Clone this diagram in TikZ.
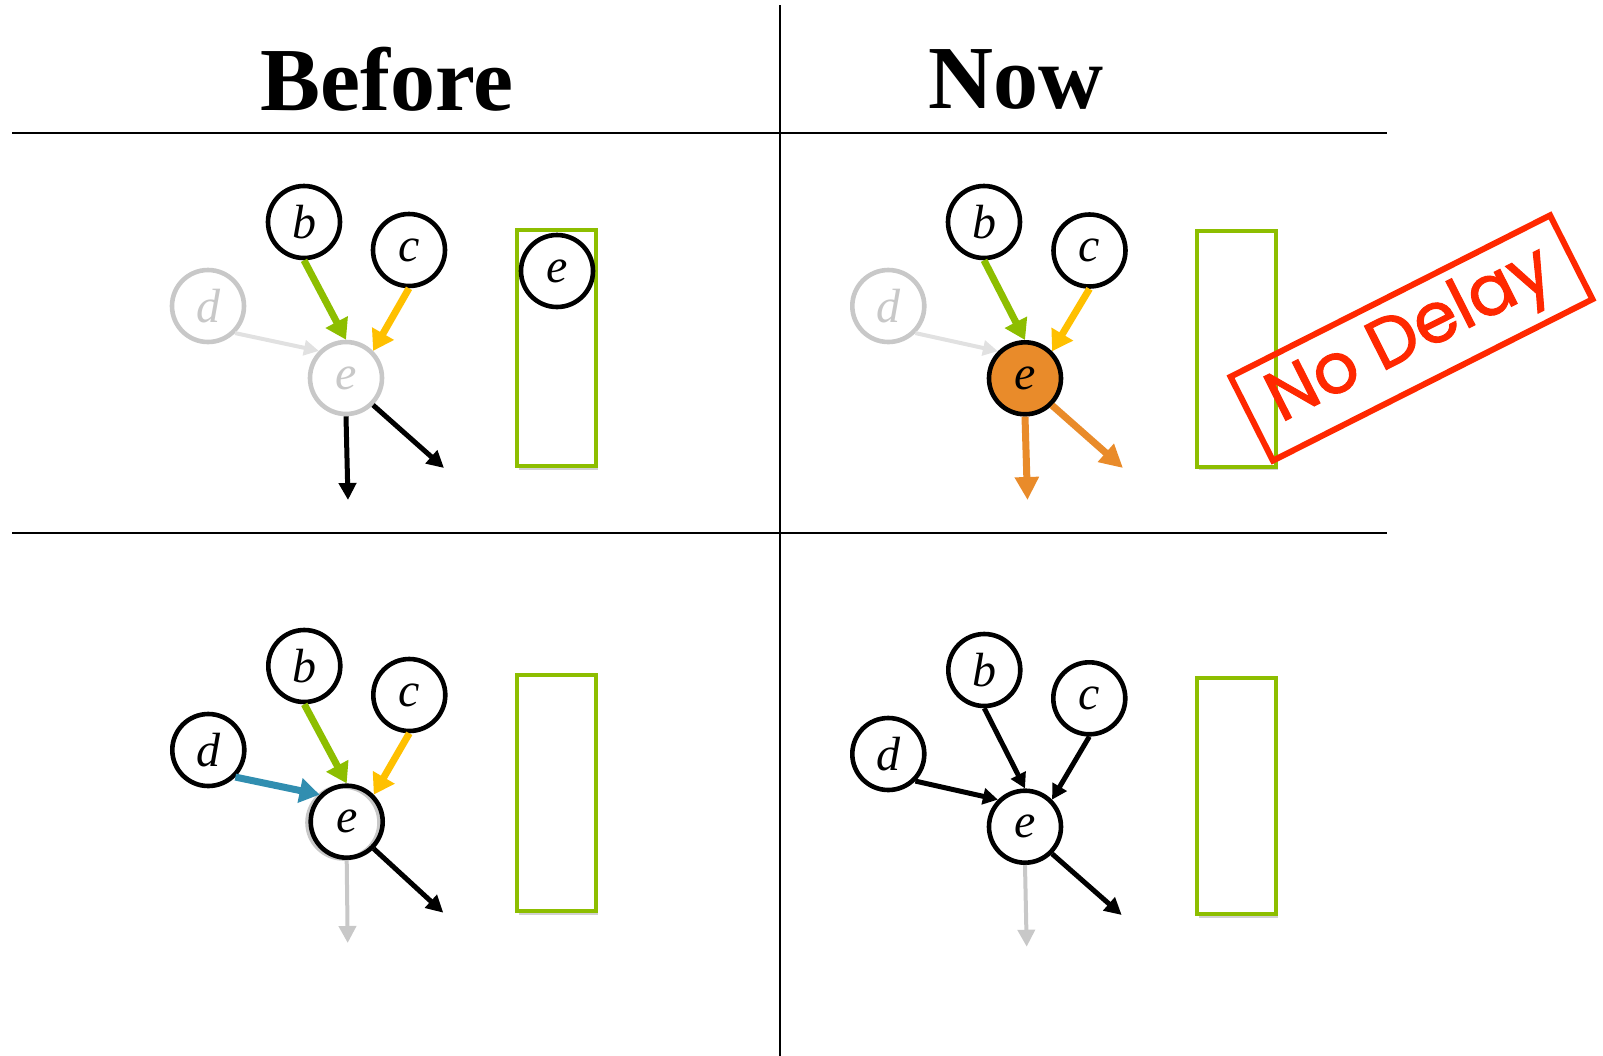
\documentclass[tikz,border=0pt]{standalone}
\usepackage{fontspec}
\setmainfont{Liberation Serif}
\newfontfamily\stampfont[FakeBold=1.5]{Poppins}
\usetikzlibrary{arrows.meta,shadows}
\definecolor{slotgreen}{RGB}{141,190,0}
\definecolor{ygold}{RGB}{255,192,0}
\definecolor{eorange}{RGB}{233,139,42}
\definecolor{teal}{RGB}{49,142,176}
\definecolor{ngray}{RGB}{200,200,200}
\definecolor{lgray}{RGB}{225,225,225}
\definecolor{stampred}{RGB}{255,40,0}
\begin{document}
\begin{tikzpicture}[x=0.5pt,y=-0.5pt,
  vnode/.style={circle,draw=black,line width=2.3pt,minimum size=36pt,inner sep=0pt,fill=white,font=\fontsize{24}{28}\selectfont\itshape},
  ghostnode/.style={vnode,draw=ngray,text=ngray},
  slot/.style={draw=slotgreen,line width=2pt,fill=white,minimum width=39.5pt,minimum height=118pt,
     drop shadow={shadow xshift=1.2pt,shadow yshift=-1.8pt,opacity=0.3,fill=black!60}},
  gridline/.style={line width=1pt,black},
  titletext/.style={font=\fontsize{45}{52}\selectfont\bfseries},
  inthick/.style={-{Triangle[length=10pt,width=12pt]},line width=3.5pt},
  inthin/.style={-{Triangle[length=7.5pt,width=8pt]},line width=2.5pt},
  ingray/.style={-{Triangle[length=7.5pt,width=7.5pt]},line width=2pt,lgray},
  outblack/.style={-{Triangle[length=8.5pt,width=8.5pt]},line width=2.5pt,black},
  outgray/.style={-{Triangle[length=8.5pt,width=8.5pt]},line width=2pt,ngray},
  outorange/.style={-{Triangle[length=11.5pt,width=11.5pt]},line width=3.5pt,eorange},
  stampbox/.style={draw=stampred,line width=3pt,rotate=26.8,minimum width=179pt,minimum height=47pt,
     inner sep=0pt,text=stampred,font=\stampfont\fontsize{35}{40}\selectfont}
]
\useasboundingbox (0,0) rectangle (1603,1056);

% grid
\coordinate (vt) at (780,5);
\coordinate (vb) at (780,1056);
\coordinate (h1l) at (12,133);
\coordinate (h1r) at (1387,133);
\coordinate (h2l) at (12,533);
\coordinate (h2r) at (1387,533);
\draw[gridline] (vt) -- (vb);
\draw[gridline] (h1l) -- (h1r);
\draw[gridline] (h2l) -- (h2r);

% titles
\node[titletext] (tBefore) at (387,79) {Before};
\node[titletext] (tNow) at (1016,79) {Now};

% ---------- top-left: Before ----------
\node[slot] (rA) at (556,348) {};
\node[vnode] (bA) at (304,222) {b};
\node[vnode] (cA) at (409,250) {c};
\node[ghostnode] (dA) at (208,306) {d};
\node[ghostnode] (eA) at (346,378) {e};
\node[vnode,fill=none] (eslotA) at (557,271) {e};
\coordinate (oA1) at (348,500);
\coordinate (oA2) at (444,468);
\draw[inthick,slotgreen] (bA.south) -- (eA.north);
\draw[inthick,ygold] (cA.south) -- (eA.north east);
\draw[ingray] (dA.south east) -- (eA.north west);
\draw[outblack] (eA.south) -- (oA1);
\draw[outblack] (eA.south east) -- (oA2);

% ---------- top-right: Now ----------
\node[slot] (rB) at (1236,348.5) {};
\node[vnode] (bB) at (984,222) {b};
\node[vnode] (cB) at (1089.5,250.5) {c};
\node[ghostnode] (dB) at (888.3,306) {d};
\node[vnode,fill=eorange] (eB) at (1025,378.3) {e};
\coordinate (oB1) at (1027.5,500);
\coordinate (oB2) at (1123,468);
\draw[inthick,slotgreen] (bB.south) -- (eB.north);
\draw[inthick,ygold] (cB.south) -- (eB.north east);
\draw[ingray] (dB.south east) -- (eB.north west);
\draw[outorange] (eB.south) -- (oB1);
\draw[outorange] (eB.south east) -- (oB2);

% stamp
\node[stampbox] (stamp) at (1411.5,338) {\raisebox{-4pt}{No Delay}};

% ---------- bottom-left: Before ----------
\node[slot] (rC) at (556,793) {};
\node[vnode] (bC) at (304.3,666) {b};
\node[vnode] (cC) at (409.3,695) {c};
\node[vnode] (dC) at (208.3,750) {d};
\node[vnode,draw=ngray,fill=none] (eCghost) at (343.5,822.5) {};
\node[vnode,fill=none] (eC) at (346.7,821.7) {e};
\coordinate (oC1) at (347.7,943);
\coordinate (oC2) at (443.3,912.7);
\draw[inthick,slotgreen] (bC.south) -- (eC.north);
\draw[inthick,ygold] (cC.south) -- (eC.north east);
\draw[inthick,teal] (dC.south east) -- (eC.north west);
\draw[outgray] (eC.south) -- (oC1);
\draw[outblack] (eC.south east) -- (oC2);

% ---------- bottom-right: Now ----------
\node[slot] (rD) at (1236,796.3) {};
\node[vnode] (bD) at (984.3,670) {b};
\node[vnode] (cD) at (1089.3,698.3) {c};
\node[vnode] (dD) at (888.3,754) {d};
\node[vnode] (eD) at (1025,826.7) {e};
\coordinate (oD1) at (1026.7,946.7);
\coordinate (oD2) at (1121.7,915);
\draw[inthin] (bD.south) -- (eD.north);
\draw[inthin] (cD.south) -- (eD.north east);
\draw[inthin] (dD.south east) -- (eD.north west);
\draw[outgray] (eD.south) -- (oD1);
\draw[outblack] (eD.south east) -- (oD2);
\end{tikzpicture}
\end{document}
